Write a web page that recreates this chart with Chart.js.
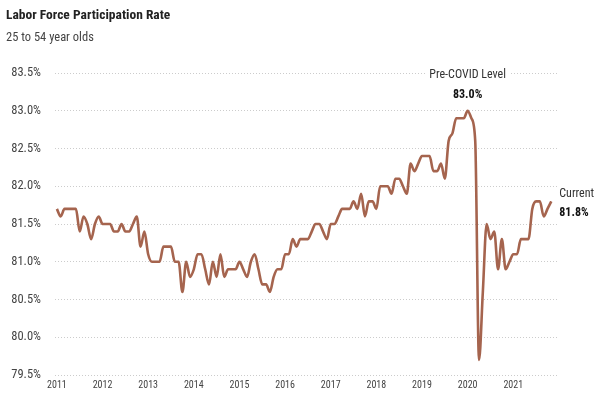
<!DOCTYPE html>
<html>
<head>
<meta charset="utf-8">
<title>Labor Force Participation Rate</title>
<script src="https://cdn.jsdelivr.net/npm/chart.js@4.4.0/dist/chart.umd.min.js"></script>
<style>
  html, body { margin: 0; padding: 0; background: #fff; }
  #wrap { width: 599px; height: 399px; }
</style>
</head>
<body>
<div id="wrap"><canvas id="lfprChart"></canvas></div>
<script>
// Labor force participation rate, 25 to 54 year olds, monthly (Jan 2011 - Nov 2021)
const years = ['2011', '2012', '2013', '2014', '2015', '2016', '2017', '2018', '2019', '2020', '2021'];

const rate2011 = [81.7, 81.6, 81.7, 81.7, 81.7, 81.7, 81.4, 81.6, 81.5, 81.3, 81.5, 81.6];
const rate2012 = [81.5, 81.5, 81.5, 81.4, 81.4, 81.5, 81.4, 81.4, 81.5, 81.6, 81.2, 81.4];
const rate2013 = [81.1, 81.0, 81.0, 81.0, 81.2, 81.2, 81.2, 81.0, 81.0, 80.6, 81.0, 80.8];
const rate2014 = [80.9, 81.1, 81.1, 80.9, 80.7, 81.0, 80.8, 81.1, 80.8, 80.9, 80.9, 80.9];
const rate2015 = [81.0, 80.9, 80.8, 81.0, 81.1, 80.9, 80.7, 80.7, 80.6, 80.8, 80.9, 80.9];
const rate2016 = [81.1, 81.1, 81.3, 81.2, 81.3, 81.3, 81.3, 81.4, 81.5, 81.5, 81.4, 81.3];
const rate2017 = [81.5, 81.5, 81.6, 81.7, 81.7, 81.7, 81.8, 81.7, 81.9, 81.6, 81.8, 81.8];
const rate2018 = [81.7, 82.0, 82.0, 82.0, 81.9, 82.1, 82.1, 82.0, 81.9, 82.3, 82.2, 82.3];
const rate2019 = [82.4, 82.4, 82.4, 82.2, 82.2, 82.3, 82.1, 82.6, 82.7, 82.9, 82.9, 82.9];
const rate2020 = [83.0, 82.9, 82.6, 79.7, 80.6, 81.5, 81.3, 81.4, 80.9, 81.3, 80.9, 81.0];
const rate2021 = [81.1, 81.1, 81.3, 81.3, 81.3, 81.7, 81.8, 81.8, 81.6, 81.7, 81.8];

const yTicks = [79.5, 80.0, 80.5, 81.0, 81.5, 82.0, 82.5, 83.0, 83.5];

const rates = [].concat(rate2011, rate2012, rate2013, rate2014, rate2015, rate2016,
  rate2017, rate2018, rate2019, rate2020, rate2021);

// x = months since Jan 2011
const points = rates.map((v, i) => ({ x: i, y: v }));
const yearTicks = years.map((y, i) => i * 12);
const peakIdx = 108; // Jan 2020
const lastIdx = rates.length - 1;

const FONT = "'Liberation Sans Narrow', 'Roboto Condensed', 'DejaVu Sans Condensed', 'Liberation Sans', sans-serif";
const LINE_COLOR = '#A5644E';

// Titles and callouts
const notes = {
  id: 'notes',
  afterDatasetsDraw(chart) {
    const { ctx, scales: { x, y } } = chart;
    ctx.save();
    ctx.textBaseline = 'middle';
    ctx.textAlign = 'left';

    ctx.fillStyle = '#222';
    ctx.font = 'bold 13.5px ' + FONT;
    ctx.fillText('Labor Force Participation Rate', 6, 16);
    ctx.fillStyle = '#444';
    ctx.font = '12.5px ' + FONT;
    ctx.fillText('25 to 54 year olds', 6, 38);

    // Pre-COVID level
    const px = x.getPixelForValue(peakIdx);
    ctx.font = '12px ' + FONT;
    const w = ctx.measureText('Pre-COVID Level').width;
    ctx.fillStyle = '#fff';
    ctx.fillRect(px - w / 2 - 3, 66, w + 6, 18);
    ctx.textAlign = 'center';
    ctx.fillStyle = '#333';
    ctx.fillText('Pre-COVID Level', px, 75);
    ctx.font = 'bold 12px ' + FONT;
    ctx.fillStyle = '#111';
    ctx.fillText(rates[peakIdx].toFixed(1) + '%', px, 95);

    // Current
    const cx = x.getPixelForValue(lastIdx) + 8;
    const cy = y.getPixelForValue(rates[lastIdx]);
    ctx.textAlign = 'left';
    ctx.font = '12px ' + FONT;
    ctx.fillStyle = '#333';
    ctx.fillText('Current', cx, cy - 7);
    ctx.font = 'bold 12px ' + FONT;
    ctx.fillStyle = '#111';
    ctx.fillText(rates[lastIdx].toFixed(1) + '%', cx, cy + 12);
    ctx.restore();
  }
};

new Chart(document.getElementById('lfprChart'), {
  type: 'line',
  data: {
    datasets: [{
      label: 'Participation rate',
      data: points,
      borderColor: LINE_COLOR,
      borderWidth: 2.6,
      pointRadius: 0,
      tension: 0.4,
      cubicInterpolationMode: 'monotone',
      fill: false
    }]
  },
  options: {
    responsive: true,
    maintainAspectRatio: false,
    animation: false,
    layout: {
      padding: { left: 8, right: 42, top: 73, bottom: 4 }
    },
    plugins: {
      legend: { display: false },
      tooltip: { enabled: false }
    },
    scales: {
      x: {
        type: 'linear',
        min: -0.5,
        max: 131.5,
        afterBuildTicks: (scale) => {
          scale.ticks = yearTicks.map(v => ({ value: v }));
        },
        afterFit: (scale) => { scale.height = 20; },
        ticks: {
          callback: (v) => years[Math.round(v / 12)],
          color: '#444',
          font: { family: FONT, size: 10 },
          padding: 4,
          maxRotation: 0
        },
        grid: { display: false, drawTicks: false },
        border: { display: false }
      },
      y: {
        min: 79.5,
        max: 83.5,
        afterBuildTicks: (scale) => {
          scale.ticks = yTicks.map(v => ({ value: v }));
        },
        afterFit: (scale) => { scale.width = 47; },
        ticks: {
          callback: (v) => v.toFixed(1) + '%',
          color: '#444',
          font: { family: FONT, size: 12.5 },
          padding: 14
        },
        grid: {
          color: '#cccccc',
          lineWidth: 1,
          drawTicks: false
        },
        border: { display: false, dash: [1, 2] }
      }
    }
  },
  plugins: [notes]
});
</script>
</body>
</html>
